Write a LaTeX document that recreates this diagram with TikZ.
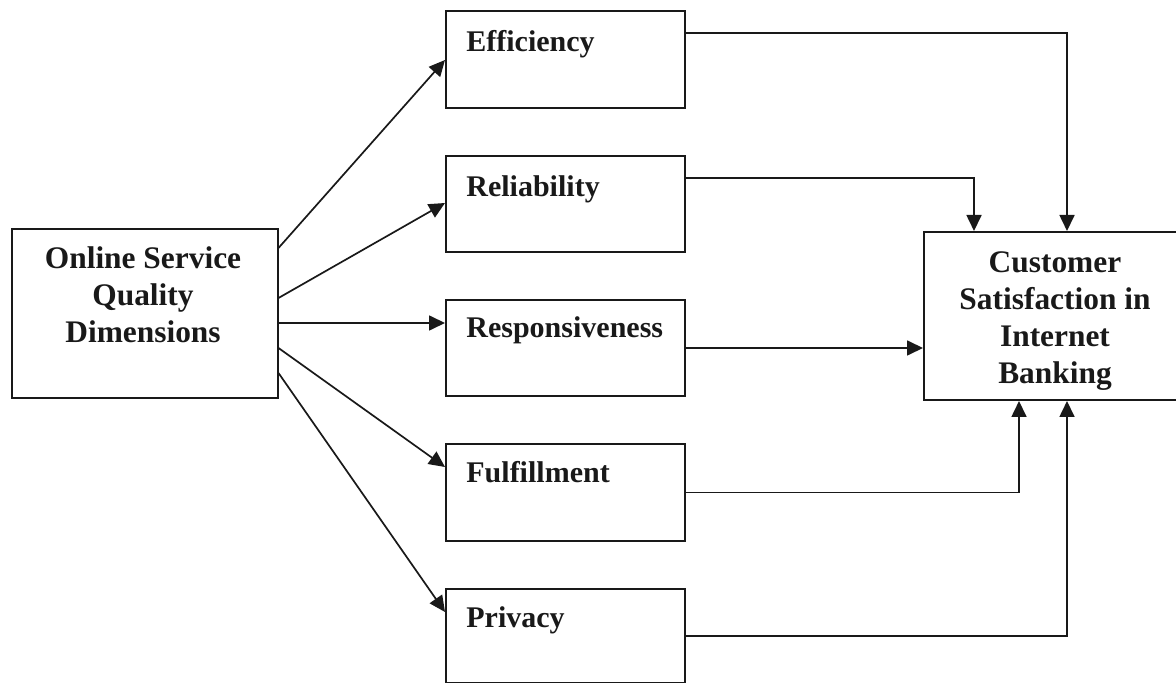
\documentclass[tikz,border=0pt]{standalone}
\usepackage{fontspec}
\setmainfont{Liberation Serif}
\usetikzlibrary{arrows.meta}
\begin{document}
\begin{tikzpicture}[x=0.5pt,y=-0.5pt,
  box/.style={draw=black!90,line width=1pt,rectangle,inner sep=0pt,anchor=north west},
  lbl/.style={font=\fontsize{15.7}{18.5}\selectfont\bfseries,inner sep=0pt,text=black!90},
  mlbl/.style={font=\fontsize{15}{18}\selectfont\bfseries,inner sep=0pt,text=black!90,anchor=base west},
  arr/.style={draw=black!90,line width=0.85pt,-{Triangle[length=8pt,width=7.5pt]}},
]
\useasboundingbox (0,0) rectangle (1176,683);
\clip (0,0) rectangle (1176,683);
% boxes
\node[box,minimum width=133pt,minimum height=84.5pt] (osq) at (10.5,228) {};
\node[box,minimum width=119.5pt,minimum height=48.5pt] (eff) at (445,10) {};
\node[box,minimum width=119.5pt,minimum height=48pt] (rel) at (445,155) {};
\node[box,minimum width=119.5pt,minimum height=48pt] (resp) at (445,299) {};
\node[box,minimum width=119.5pt,minimum height=48.5pt] (ful) at (445,443) {};
\node[box,minimum width=119.5pt,minimum height=47pt] (priv) at (445,588) {};
\node[box,minimum width=135pt,minimum height=84pt] (cs) at (923,231) {};
% texts
\node[lbl,align=center,anchor=north] (osqt) at (143,246) {Online Service\\Quality\\Dimensions};
\node[mlbl] (efft) at (466,52) {Efficiency};
\node[mlbl] (relt) at (466,197) {Reliability};
\node[mlbl] (respt) at (466,338) {Responsiveness};
\node[mlbl] (fult) at (466,482) {Fulfillment};
\node[mlbl] (privt) at (466,627) {Privacy};
\node[lbl,align=center,anchor=north] (cst) at (1055,251) {Customer\\Satisfaction in\\Internet\\Banking};
% left connectors
\draw[arr] ([yshift=-10pt]osq.north east) -- ([yshift=-25pt]eff.north west);
\draw[arr] ([yshift=-35pt]osq.north east) -- ([yshift=-24pt]rel.north west);
\draw[arr] ([yshift=-47.5pt]osq.north east) -- ([yshift=-12pt]resp.north west);
\draw[arr] ([yshift=-60pt]osq.north east) -- ([yshift=-12pt]ful.north west);
\draw[arr] ([yshift=-72.5pt]osq.north east) -- ([yshift=-12pt]priv.north west);
% right connectors
\draw[arr] ([yshift=-11.5pt]eff.north east) -| ([xshift=72pt]cs.north west);
\draw[arr] ([yshift=-11.5pt]rel.north east) -| ([xshift=25.5pt]cs.north west);
\draw[arr] (resp.east) -- (resp.east -| cs.west);
\draw[arr] (ful.east) -| ([xshift=48pt]cs.south west);
\draw[arr] (priv.east) -| ([xshift=72pt]cs.south west);
\end{tikzpicture}
\end{document}
